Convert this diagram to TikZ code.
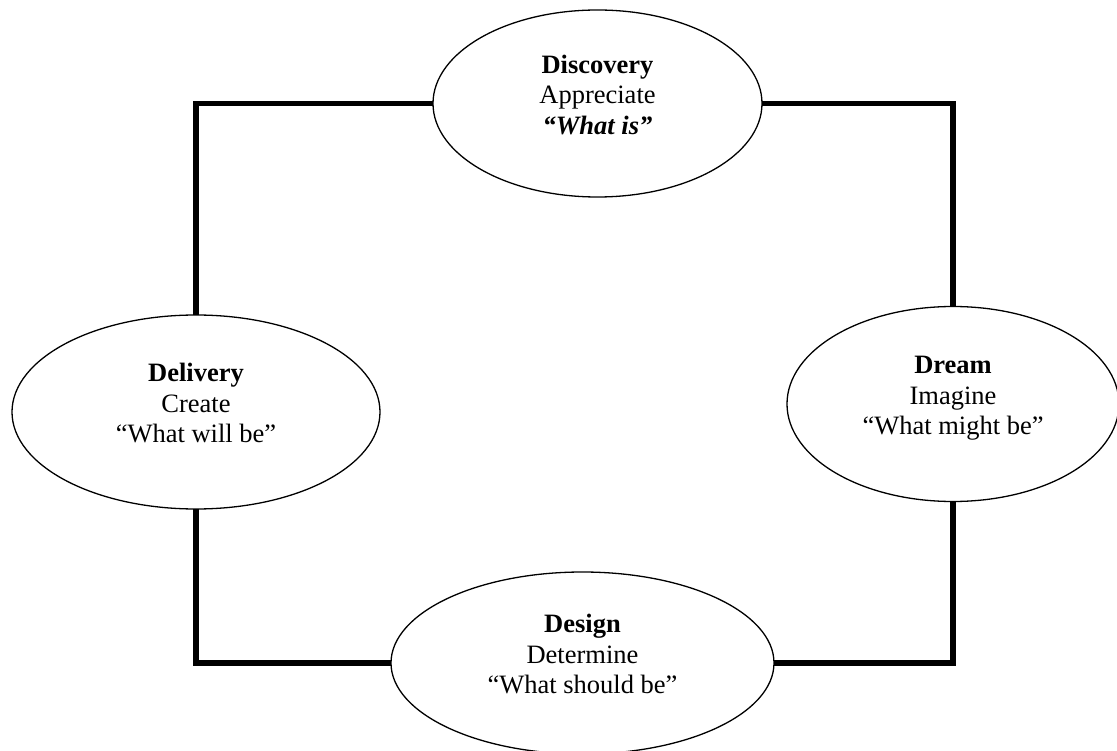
\documentclass[tikz,border=0pt]{standalone}
\usepackage{fontspec}
\setmainfont{Liberation Serif}
\usetikzlibrary{shapes.geometric}
\tikzset{
  phase/.style={ellipse, draw=black, line width=1.3pt, fill=white,
    inner sep=0pt, outer sep=0pt},
  phasetext/.style={inner sep=0pt, yshift=6pt,
    font=\fontsize{26.5}{30.5}\selectfont},
  link/.style={draw=black, line width=5.5pt, line join=miter, line cap=butt},
}
% three centred lines: bold phase name, verb, quoted question
\newcommand{\phaselines}[3]{\begin{tabular}{@{}c@{}}\textbf{#1}\\#2\\#3\end{tabular}}
\begin{document}
\begin{tikzpicture}[x=1pt,y=-1pt]
\useasboundingbox (0,0) rectangle (1117,751);

% the four phases
\node[phase, minimum width=329pt, minimum height=187pt] (disc)  at (597.5,103.5) {};
\node[phase, minimum width=332pt, minimum height=195pt] (dream) at (953,404) {};
\node[phase, minimum width=368pt, minimum height=194pt] (deliv) at (196,412) {};
\node[phase, minimum width=383pt, minimum height=182pt] (design) at (582.5,663) {};

\node[phasetext] (disc-t)   at (disc.center)   {\phaselines{Discovery}{Appreciate}{\textbf{\textit{“What is”}}}};
\node[phasetext] (dream-t)  at (dream.center)  {\phaselines{Dream}{Imagine}{“What might be”}};
\node[phasetext] (deliv-t)  at (deliv.center)  {\phaselines{Delivery}{Create}{“What will be”}};
\node[phasetext] (design-t) at (design.center) {\phaselines{Design}{Determine}{“What should be”}};

% the cycle connecting them
\draw[link] (disc.west)  -| (deliv.north);
\draw[link] (disc.east)  -| (dream.north);
\draw[link] (dream.south) |- (design.east);
\draw[link] (deliv.south) |- (design.west);
\end{tikzpicture}
\end{document}
